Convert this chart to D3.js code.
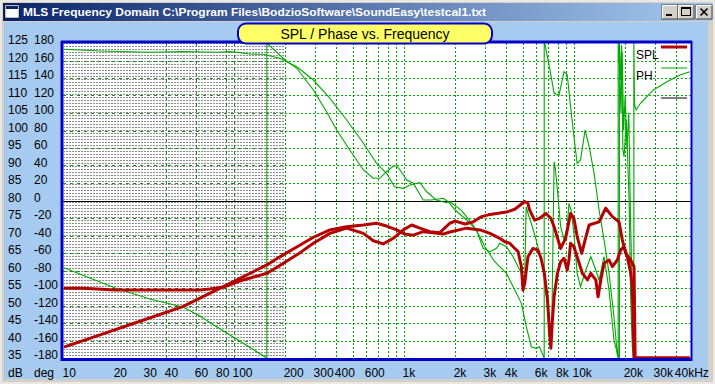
<!DOCTYPE html>
<html><head><meta charset="utf-8">
<script src="https://cdn.jsdelivr.net/npm/d3@7"></script>
<style>body{margin:0;overflow:hidden;background:#d4d0c8}svg{display:block}</style>
</head><body>
<script>
// ---------------- data ----------------
const freqTicks = [10,20,30,40,60,80,100,200,300,400,600,1000,2000,3000,4000,6000,8000,10000,20000,30000,40000];
const freqLabels = ["10","20","30","40","60","80","100","200","300","400","600","1k","2k","3k","4k","6k","8k","10k","20k","30k","40kHz"];
const gridFreqs = [200,300,400,500,600,700,800,900,1000,2000,3000,4000,5000,6000,7000,8000,9000,10000,20000,30000,40000];
const gatedGridFreqs = [40,60,90,100];
const dbTicks = [125,120,115,110,105,100,95,90,85,80,75,70,65,60,55,50,45,40,35];
const degTicks = [180,160,140,120,100,80,60,40,20,0,-20,-40,-60,-80,-100,-120,-140,-160,-180];
const gatedRange = [10,200];

const spl1 = [[10,38.1],[16.3,41.6],[28,45.5],[50,49.7],[86,55.3],[156,61.6],[186,63.9],[245,67.3],[293,69.5],[367,71.6],[460,72.5],[577,73],[690,73.5],[790,72.7],[906,71.6],[1013,70.4],[1134,70.1],[1297,71.1],[1484,70.8],[1700,70.4],[1860,71],[2337,72.1],[2800,71.6],[3204,70.6],[3660,69.2],[3917,68.2],[4190,67.8],[4384,66.8],[4690,65.4],[4905,61.1],[5014,54.4],[5128,56.3],[5360,63.9],[5730,66.3],[6126,65.9],[6400,63.5],[6690,59.2],[6990,51.6],[7150,43.9],[7310,37.8],[7470,45.9],[7640,52.5],[7990,59.2],[8350,62.5],[8740,63.5],[9130,60.1],[9340,63],[9550,67.8],[9990,66.8],[10440,63.9],[11200,59.2],[12010,57.3],[12560,59.2],[13440,57.3],[13860,52.5],[14380,57.3],[15030,62.1],[16080,63],[16820,61.1],[18000,63],[18830,65.9],[19700,66.8],[20600,63.9],[21560,59.2],[22040,55.4],[22550,35],[48000,35]];

const spl2 = [[10,54.9],[12.9,54.9],[20,54.4],[63,54.4],[72,54.7],[86,55.2],[108,57],[156,59.2],[186,61.4],[245,65.1],[293,67.8],[367,70.6],[460,72.1],[577,70.6],[660,68.5],[755,67.6],[866,69.2],[990,71.6],[1110,73],[1240,72.1],[1420,71.1],[1625,70.8],[1860,73.5],[2000,74.1],[2285,73.3],[2557,73.9],[2864,75.4],[3134,75.9],[3505,76.3],[4007,76.7],[4484,77.5],[5128,79.7],[5360,79.2],[5480,77.3],[5860,74.4],[6260,74.9],[6840,76.3],[7310,74.9],[7640,72.5],[8170,67.8],[8350,66.3],[8930,69.2],[9550,76.3],[9990,74.9],[10440,69.7],[11110,64.9],[11620,68.7],[12280,73],[14050,73.9],[15370,77.8],[16820,75.4],[18400,73.9],[19260,68.7],[20150,64.9],[21560,63],[22550,61.1],[22900,35],[48000,35]];

const ph1 = [[10,-76.8],[14.2,-88.6],[20,-100],[32,-112.6],[50,-121.7],[63,-132],[79,-144.2],[108,-160.6],[156,-180],[156,180],[200,160.6],[234,151.1],[293,126.3],[350,101.5],[402,80.6],[480,57.7],[577,34.9],[660,25.4],[720,25.4],[790,32.9],[866,39.4],[906,39.4],[947,34.9],[1040,23.4],[1134,19.7],[1297,0.6],[1450,0.6],[1700,2.5],[1820,-1.4],[2000,-10.9],[2337,-22.3],[2670,-33.7],[2920,-54.6],[3204,-58.5],[3505,-54.6],[3660,-48.9],[4007,-52.8],[4384,-64.2],[4800,-79.4],[5128,-90.9],[5230,-7.1],[5360,-14.6],[5650,-28],[5990,-45.1],[6400,-68],[6690,-85],[6990,-121.4],[7150,-151.8],[7380,-165],[7640,44.3],[7790,34.9],[7990,12],[8350,-30],[8740,-45.1],[9130,-30],[9340,-3.2],[9600,-10.9],[9990,-37.5],[10440,-83.2],[10930,-98.5],[11740,-79.4],[12560,-64.2],[13440,-79.4],[14050,-90.9],[15030,-64.2],[16080,-102.3],[17190,-159.4],[17950,-174],[18500,-180],[18500,180],[18800,137.7],[19050,177.7],[19400,57.7],[19700,49.7],[20300,92],[20600,57.7],[21100,0.6],[21560,-113.7],[22040,-167.1],[22400,-180]];

const ph2 = [[10,172.8],[16.3,170.9],[32,169.4],[50,170.3],[80,169.5],[95,170.1],[124,167.4],[148,167.1],[186,162.5],[204,158.6],[234,152.9],[293,137.7],[367,116.8],[460,92],[577,65.4],[690,42.5],[790,31.1],[880,15.8],[990,13.9],[1085,17.7],[1240,20.3],[1360,10],[1550,0.6],[1780,-2.5],[1860,-1.4],[2170,-10.9],[2510,-26.1],[2800,-41.4],[2990,-52.8],[3420,-70],[4007,-83.2],[4484,-102.3],[4905,-117.5],[5243,-144.2],[5610,-167.1],[5990,-168.9],[6260,-167.1],[6680,-180],[6680,180],[6760,177.7],[7230,149.1],[7640,122.5],[8170,120.6],[8740,147.2],[9130,143.4],[9550,107.2],[9990,72.9],[10440,42.5],[10930,46.3],[11620,80.6],[12280,61.5],[13130,31.1],[14050,-10.9],[15030,-45.1],[16080,-83.2],[17190,-132.8],[18000,-176.6],[18200,-180],[18200,180],[18600,150],[18900,100],[19200,170],[19600,80],[20000,120],[20500,60],[21000,100],[21500,-20],[22100,-120],[22500,-180],[22500,180],[22700,110],[23200,103.4],[24600,111.1],[29300,126.3],[35200,135.8],[42000,143.4],[48000,147.2]];

const legendItems = [{label:"SPL",color:"#b40000",w:3},{label:"PH",color:"#00a800",w:1},{label:"",color:"#000000",w:1}];
const windowTitle = "MLS Frequency Domain  C:\\Program Files\\BodzioSoftware\\SoundEasy\\testcal1.txt";
const chartTitle = "SPL / Phase vs. Frequency";

// ---------------- layout ----------------
const W=715,H=384;
const P={l:63,r:691,t:43,b:358};
const FONT='"Liberation Sans Narrow","Liberation Sans",Arial,sans-serif';
const x=d3.scaleLog().domain([10,50000]).range([64,692.8]);
const yDb=d3.scaleLinear().domain([35,125]).range([P.b,P.t]);
const yDeg=d3.scaleLinear().domain([-180,180]).range([P.b,P.t]);

const svg=d3.select('body').append('svg').attr('width',W).attr('height',H);
const defs=svg.append('defs');
const g1=defs.append('linearGradient').attr('id','tb');
g1.append('stop').attr('offset',0).attr('stop-color','#0a246a');
g1.append('stop').attr('offset',1).attr('stop-color','#a6caf0');
const pat=defs.append('pattern').attr('id','hatch').attr('patternUnits','userSpaceOnUse').attr('width',3).attr('height',3);
pat.append('rect').attr('width',3).attr('height',3).attr('fill','#fff');
pat.append('rect').attr('x',0).attr('y',1).attr('width',2).attr('height',1).attr('fill','#8c8c8c');
defs.append('clipPath').attr('id','clip').append('rect').attr('x',P.l+1).attr('y',P.t).attr('width',P.r-P.l-1).attr('height',P.b-P.t+1);

// window frame
svg.append('rect').attr('width',W).attr('height',H).attr('fill','#d4d0c8');
svg.append('rect').attr('x',1).attr('y',1).attr('width',W-2).attr('height',H-2).attr('fill','none').attr('stroke','#ffffff').attr('stroke-width',1);
svg.append('rect').attr('x',3).attr('y',3).attr('width',709).attr('height',18).attr('fill','url(#tb)');
svg.append('rect').attr('x',5).attr('y',5).attr('width',14).attr('height',13).attr('fill','#fff').attr('stroke','#000').attr('stroke-width',0.5);
svg.append('rect').attr('x',6).attr('y',6).attr('width',12).attr('height',3).attr('fill','#0a246a');
svg.append('text').attr('x',23).attr('y',16).attr('fill','#fff').attr('font-family','"Liberation Sans",Arial,sans-serif')
  .attr('font-weight','bold').attr('font-size',11.5).attr('textLength',463).attr('lengthAdjust','spacingAndGlyphs').text(windowTitle);
[662,678,696].forEach((bx,i)=>{
  const b=svg.append('g');
  b.append('rect').attr('x',bx).attr('y',5).attr('width',16).attr('height',14).attr('fill','#d4d0c8').attr('stroke','#404040').attr('stroke-width',1);
  b.append('path').attr('d',`M${bx+0.5},${18.5}V${5.5}H${bx+15.5}`).attr('stroke','#fff').attr('fill','none');
  if(i===0) b.append('rect').attr('x',bx+4).attr('y',14).attr('width',6).attr('height',2).attr('fill','#000');
  if(i===1){b.append('rect').attr('x',bx+3.5).attr('y',7.5).attr('width',9).attr('height',8).attr('fill','none').attr('stroke','#000');
            b.append('rect').attr('x',bx+3.5).attr('y',7.5).attr('width',9).attr('height',1.5).attr('fill','#000');}
  if(i===2) b.append('path').attr('d',`M${bx+4.5},${8.5}L${bx+11.5},${15.5}M${bx+11.5},${8.5}L${bx+4.5},${15.5}`).attr('stroke','#000').attr('stroke-width',1.6);
});
svg.append('rect').attr('x',4).attr('y',22).attr('width',704).attr('height',357).attr('fill','#a6caf0');

// plot bg + gated hatch
svg.append('rect').attr('x',P.l).attr('y',P.t).attr('width',P.r-P.l).attr('height',P.b-P.t).attr('fill','#fff');
svg.append('rect').attr('x',x(gatedRange[0])).attr('y',P.t).attr('width',x(gatedRange[1])-x(gatedRange[0])).attr('height',P.b-P.t).attr('fill','url(#hatch)');

// grid
const grid=svg.append('g');
const xg=x(gatedRange[1]);
gatedGridFreqs.forEach(f=>{
  const gx=Math.round(x(f))+0.5;
  grid.append('line').attr('x1',gx).attr('x2',gx).attr('y1',P.t).attr('y2',P.b).attr('stroke','#1a8a1a').attr('stroke-dasharray','3,3');
});
gridFreqs.forEach(f=>{
  const gx=Math.round(x(f))+0.5;
  grid.append('line').attr('x1',gx).attr('x2',gx).attr('y1',P.t).attr('y2',P.b).attr('stroke','#00a000').attr('stroke-dasharray','2,2');
});
dbTicks.forEach(v=>{
  if(v===125||v===35||v===80) return;
  const gy=Math.round(yDb(v))+0.5;
  grid.append('line').attr('x1',P.l).attr('x2',xg).attr('y1',gy).attr('y2',gy).attr('stroke','#1a8a1a').attr('stroke-dasharray','3,4');
  grid.append('line').attr('x1',xg).attr('x2',P.r).attr('y1',gy).attr('y2',gy).attr('stroke','#00a000').attr('stroke-dasharray','2,2');
});
grid.append('line').attr('x1',P.l).attr('x2',P.r).attr('y1',Math.round(yDb(80))+0.5).attr('y2',Math.round(yDb(80))+0.5).attr('stroke','#000');

// data
const plot=svg.append('g').attr('clip-path','url(#clip)');
const lineDb=d3.line().x(d=>x(d[0])).y(d=>yDb(d[1]));
const lineDeg=d3.line().x(d=>x(d[0])).y(d=>yDeg(d[1]));
[ph1,ph2].forEach(s=>plot.append('path').attr('d',lineDeg(s)).attr('fill','none').attr('stroke','#00a800').attr('stroke-width',1.1));
[spl1,spl2].forEach(s=>plot.append('path').attr('d',lineDb(s)).attr('fill','none').attr('stroke','#b40000').attr('stroke-width',3).attr('stroke-linejoin','round'));

// border
svg.append('line').attr('x1',62).attr('x2',62).attr('y1',41).attr('y2',361).attr('stroke','#0000c8').attr('stroke-width',3);
svg.append('line').attr('x1',61).attr('x2',692).attr('y1',359.5).attr('y2',359.5).attr('stroke','#0000c8').attr('stroke-width',3);
svg.append('line').attr('x1',61).attr('x2',692).attr('y1',42).attr('y2',42).attr('stroke','#0000c8').attr('stroke-width',3);
svg.append('line').attr('x1',691.5).attr('x2',691.5).attr('y1',41).attr('y2',361).attr('stroke','#0000c8').attr('stroke-width',2);

// chart title box
svg.append('rect').attr('x',238).attr('y',23.5).attr('width',254).attr('height',20).attr('rx',8).attr('fill','#ffff66').attr('stroke','#0000c8').attr('stroke-width',2);
svg.append('text').attr('x',365).attr('y',38.5).attr('text-anchor','middle').attr('font-family','"Liberation Sans",Arial,sans-serif').attr('font-size',14).text(chartTitle);

// axis labels
const ax=svg.append('g').attr('font-family',FONT).attr('font-size',12).attr('fill','#000');
dbTicks.forEach(v=>ax.append('text').attr('x',8).attr('y',yDb(v)+1).text(v));
degTicks.forEach(v=>ax.append('text').attr('x',34).attr('y',yDeg(v)+1).text(v));
ax.append('text').attr('x',8).attr('y',377).text('dB');
ax.append('text').attr('x',34).attr('y',377).text('deg');
freqTicks.forEach((f,i)=>ax.append('text').attr('x',x(f)-1.5).attr('y',377).text(freqLabels[i]));

// legend
const lg=svg.append('g').attr('font-family',FONT).attr('font-size',12);
legendItems.forEach((it,i)=>{
  const ly=[47,68,98][i];
  lg.append('line').attr('x1',661).attr('x2',687).attr('y1',ly).attr('y2',ly).attr('stroke',it.color).attr('stroke-width',it.w);
  if(it.label) lg.append('text').attr('x',636).attr('y',ly+12).text(it.label);
});
</script>
</body></html>
